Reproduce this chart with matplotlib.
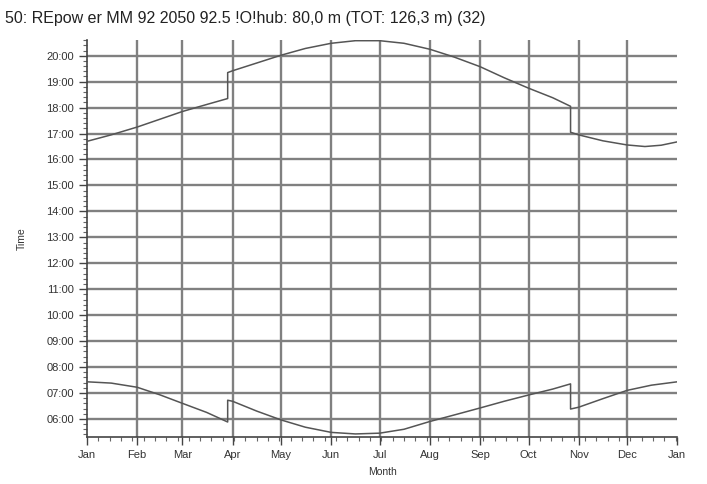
import numpy as np
import matplotlib.pyplot as plt
from matplotlib.ticker import FixedLocator, MultipleLocator, FuncFormatter

plt.rcParams['font.family'] = ['Liberation Sans', 'DejaVu Sans']

# day of year / decimal hour
sunset_day = [0, 15, 31, 45, 59, 74, 87, 87, 90, 105, 120, 135, 151, 166, 181,
              196, 212, 227, 243, 258, 273, 288, 299, 299, 304, 319, 334, 345, 355, 365]
sunset_hr = [16.70, 16.95, 17.25, 17.55, 17.85, 18.12, 18.35, 19.35, 19.42, 19.72,
             20.02, 20.28, 20.48, 20.58, 20.58, 20.48, 20.25, 19.95, 19.58, 19.15,
             18.75, 18.38, 18.05, 17.05, 16.95, 16.72, 16.56, 16.50, 16.55, 16.68]

sunrise_day = [0, 15, 31, 45, 59, 74, 87, 87, 90, 105, 120, 135, 151, 166, 181,
               196, 212, 227, 243, 258, 273, 288, 299, 299, 304, 319, 334, 349, 365]
sunrise_hr = [7.43, 7.38, 7.22, 6.93, 6.60, 6.25, 5.88, 6.72, 6.68, 6.30, 5.96,
              5.68, 5.48, 5.42, 5.45, 5.60, 5.90, 6.15, 6.42, 6.68, 6.92, 7.15,
              7.35, 6.38, 6.45, 6.78, 7.10, 7.30, 7.43]

month_start = [0, 31, 59, 90, 120, 151, 181, 212, 243, 273, 304, 334, 365]
month_names = ['Jan', 'Feb', 'Mar', 'Apr', 'May', 'Jun', 'Jul', 'Aug', 'Sep',
               'Oct', 'Nov', 'Dec', 'Jan']
hours = list(range(6, 21))

fig = plt.figure(figsize=(7.07, 4.84), dpi=100)
ax = fig.add_axes([0.123, 0.097, 0.835, 0.82])

for h in hours:
    ax.axhline(h, color='#808080', lw=1.7, zorder=1)
for d in month_start[1:-1]:
    ax.axvline(d, color='#808080', lw=1.7, zorder=1)

ax.plot(sunset_day, sunset_hr, color='#555555', lw=1.1, zorder=3)
ax.plot(sunrise_day, sunrise_hr, color='#555555', lw=1.1, zorder=3)

ax.set_xlim(0, 365)
ax.set_ylim(5.3, 20.6)

ax.xaxis.set_major_locator(FixedLocator(month_start))
ax.set_xticklabels(month_names)
ax.xaxis.set_minor_locator(MultipleLocator(7))
ax.yaxis.set_major_locator(FixedLocator(hours))
ax.yaxis.set_major_formatter(FuncFormatter(lambda v, p: '%02d:00' % int(round(v))))
ax.yaxis.set_minor_locator(MultipleLocator(1 / 5))

ax.tick_params(axis='both', which='major', labelsize=8, color='#444444',
               length=6, width=1, labelcolor='#333333')
ax.tick_params(axis='both', which='minor', length=3, width=0.8, color='#666666')

for s in ['top', 'right']:
    ax.spines[s].set_visible(False)
for s in ['left', 'bottom']:
    ax.spines[s].set_color('#444444')
    ax.spines[s].set_linewidth(1.2)

ax.set_xlabel('Month', fontsize=7.5, color='#333333', labelpad=5)
ax.set_ylabel('Time', fontsize=7.5, color='#333333', labelpad=14)

fig.text(0.007, 0.962, '50: REpow er MM 92 2050 92.5 !O!hub: 80,0 m (TOT: 126,3 m) (32)',
         fontsize=11.5, color='#222222', ha='left', va='center')

fig.savefig('out.png', dpi=100)
